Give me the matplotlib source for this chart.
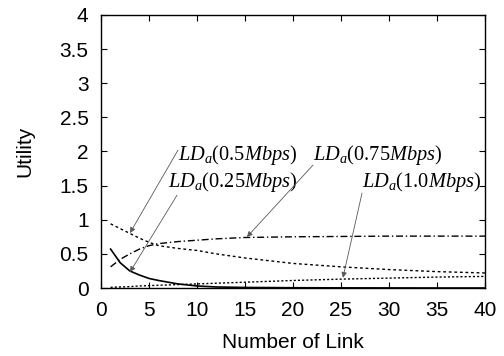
import matplotlib
matplotlib.use("Agg")
import matplotlib.pyplot as plt

x = [1, 2, 3, 4, 5, 6, 8, 10, 12, 15, 20, 25, 30, 35, 40]
ld_025 = [0.57, 0.37, 0.25, 0.19, 0.14, 0.11, 0.06, 0.03, 0.015, 0.008, 0.004, 0.002, 0.001, 0.0, 0.0]
ld_050 = [0.94, 0.87, 0.80, 0.73, 0.67, 0.62, 0.58, 0.55, 0.50, 0.44, 0.36, 0.31, 0.27, 0.24, 0.22]
ld_075 = [0.31, 0.42, 0.50, 0.57, 0.62, 0.65, 0.68, 0.70, 0.72, 0.74, 0.75, 0.755, 0.76, 0.76, 0.76]
ld_100 = [0.01, 0.015, 0.02, 0.03, 0.035, 0.04, 0.05, 0.06, 0.07, 0.085, 0.11, 0.13, 0.145, 0.16, 0.17]

labels = [r'$LD_a$(0.25$Mbps$)', r'$LD_a$(0.5$Mbps$)', r'$LD_a$(0.75$Mbps$)', r'$LD_a$(1.0$Mbps$)']

plt.rcParams['font.family'] = ['Liberation Sans', 'DejaVu Sans']
plt.rcParams['mathtext.fontset'] = 'custom'
plt.rcParams['mathtext.it'] = 'Liberation Serif:italic'
plt.rcParams['mathtext.rm'] = 'Liberation Serif'

fig = plt.figure(figsize=(5.04, 3.56), dpi=100)
ax = fig.add_axes([0.2004, 0.191, 0.7619, 0.767])

ax.plot(x, ld_025, color='black', lw=1.2, ls='-')
ax.plot(x, ld_050, color='black', lw=1.0, ls=(0, (2, 2)))
ax.plot(x, ld_075, color='black', lw=1.0, ls=(0, (5, 2, 1, 2)))
ax.plot(x, ld_100, color='black', lw=1.0, ls=(0, (1.5, 1.5)))

ax.set_xlim(0, 40)
ax.set_ylim(0, 4)
ax.set_xticks(range(0, 41, 5))
ax.set_yticks([0, 0.5, 1, 1.5, 2, 2.5, 3, 3.5, 4])
ax.set_yticklabels(['0', '0.5', '1', '1.5', '2', '2.5', '3', '3.5', '4'])
ax.tick_params(direction='in', top=True, right=True, length=4, width=0.8, labelsize=15)
ax.tick_params(axis='y', pad=9)
ax.tick_params(axis='x', pad=9)
for s in ax.spines.values():
    s.set_linewidth(1.0)
ax.set_xlabel('Number of Link', fontsize=15, labelpad=10)
ax.set_ylabel('Utility', fontsize=15, labelpad=18)

text_pos = [(6.98, 1.48), (8.02, 1.875), (22.08, 1.875), (27.19, 1.48)]
arrow_start = [(7.92, 1.36), (8.02, 2.02), (22.08, 1.80), (27.19, 1.39)]
arrow_tip = [(3.02, 0.234), (3.02, 0.806), (15.2, 0.747), (25.2, 0.15)]

for lab, tp, st, tip in zip(labels, text_pos, arrow_start, arrow_tip):
    ax.text(tp[0], tp[1], lab, fontsize=14.7, va='baseline', ha='left',
            family='Liberation Serif')
    ax.annotate('', xy=tip, xytext=st,
                arrowprops=dict(arrowstyle='-|>', color='0.35', lw=0.6,
                                mutation_scale=8, shrinkA=0, shrinkB=0))

fig.savefig('out.png', dpi=100)
